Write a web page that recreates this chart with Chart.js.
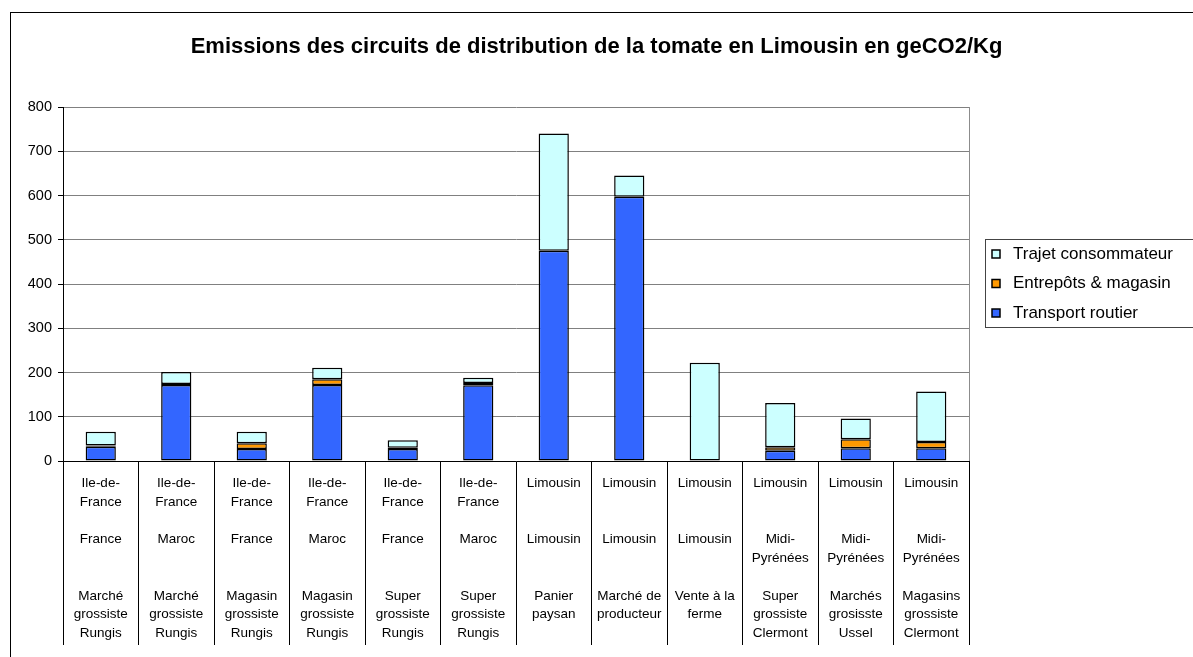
<!DOCTYPE html>
<html><head><meta charset="utf-8">
<script src="https://cdn.jsdelivr.net/npm/chart.js@4"></script>
<style>html,body{margin:0;padding:0;background:#fff;overflow:hidden}canvas{display:block}</style>
</head><body>
<canvas id="c" width="1193" height="657" style="width:1193px;height:657px"></canvas>
<script>
// ---- data ----
const regionLines = [
  ['Ile-de-','France'],['Ile-de-','France'],['Ile-de-','France'],['Ile-de-','France'],['Ile-de-','France'],['Ile-de-','France'],
  ['Limousin'],['Limousin'],['Limousin'],['Limousin'],['Limousin'],['Limousin']
];
const originLines = [
  ['France'],['Maroc'],['France'],['Maroc'],['France'],['Maroc'],
  ['Limousin'],['Limousin'],['Limousin'],['Midi-','Pyrénées'],['Midi-','Pyrénées'],['Midi-','Pyrénées']
];
const circuitLines = [
  ['Marché','grossiste','Rungis'],['Marché','grossiste','Rungis'],
  ['Magasin','grossiste','Rungis'],['Magasin','grossiste','Rungis'],
  ['Super','grossiste','Rungis'],['Super','grossiste','Rungis'],
  ['Panier','paysan'],['Marché de','producteur'],['Vente à la','ferme'],
  ['Super','grossiste','Clermont'],['Marchés','grosisste','Ussel'],['Magasins','grossiste','Clermont']
];
const seriesNames = ['Transport routier','Entrepôts & magasin','Trajet consommateur'];
const transportRoutier   = [32, 172, 27, 172, 27, 171, 475, 597,   0, 23, 29, 29];
const entrepotsMagasin   = [ 3,   2, 13,  13,  3,   5,   0,   0,   0,  8, 20, 14];
const trajetConsommateur = [31,  27, 26,  26, 17,  12, 265,  48, 222, 100, 47, 114];
const yMin = 0, yMax = 800, yStep = 100;
const chartTitle = 'Emissions des circuits de distribution de la tomate en Limousin en geCO2/Kg';

// ---- build ----
const FONT = "'Liberation Sans', Arial, sans-serif";
function pad(arr, n){ const a = arr.slice(); while(a.length < n) a.push(''); return a; }
const labels = regionLines.map((r, i) => [...pad(r,2), '', ...pad(originLines[i],2), '', ...pad(circuitLines[i],3)]);

const decor = {
  id: 'decor',
  beforeLayout(chart){
    const lg = chart.legend;
    if (lg && !lg.__patched){
      const f = lg.fit;
      lg.fit = function(){ f.call(this); this.width = 224; };
      lg.__patched = true;
    }
  },
  afterLayout(chart){
    const lg = chart.legend;
    if (!lg) return;
    lg.left = 975; lg.right = 975 + 224; lg.width = 224;
    lg.top = 233; lg.bottom = 233 + 130; lg.height = 130;
  },
  beforeDraw(chart){
    const c = chart.ctx;
    c.save();
    c.fillStyle = '#fff'; c.fillRect(0,0,chart.width,chart.height);
    c.strokeStyle = '#000'; c.lineWidth = 1;
    c.strokeRect(10.5, 12.5, chart.width + 20, chart.height + 20);
    c.restore();
  },
  afterDraw(chart){
    const c = chart.ctx, a = chart.chartArea;
    c.save();
    c.strokeStyle = '#8c8c8c'; c.lineWidth = 1;
    const xr = Math.round(a.right) + 0.5;
    c.beginPath(); c.moveTo(xr, Math.round(a.top)); c.lineTo(xr, Math.round(a.bottom)); c.stroke();
    c.strokeStyle = '#444';
    c.strokeRect(985.5, 239.5, 240, 88);
    c.restore();
  }
};

new Chart(document.getElementById('c'), {
  type: 'bar',
  data: {
    labels: labels,
    datasets: [
      { label: seriesNames[0], data: transportRoutier, backgroundColor: '#3366FF' },
      { label: seriesNames[1], data: entrepotsMagasin, backgroundColor: '#FF9900' },
      { label: seriesNames[2], data: trajetConsommateur, backgroundColor: '#CCFFFF' }
    ].map(d => Object.assign(d, { borderColor: '#000', borderWidth: 1.5, borderSkipped: false, categoryPercentage: 0.8, barPercentage: 0.5 }))
  },
  options: {
    responsive: false,
    animation: false,
    devicePixelRatio: 1,
    layout: { padding: { left: 0, right: 0, top: 0, bottom: 12 } },
    plugins: {
      title: { display: true, text: chartTitle, color: '#000',
        font: { family: FONT, size: 22, weight: 'bold', lineHeight: 1.2 },
        padding: { top: 33.5, bottom: 47.1 } },
      legend: { display: true, position: 'right', align: 'start', reverse: true,
        labels: { color: '#000', font: { family: FONT, size: 17 }, padding: 12.5,
          usePointStyle: true, pointStyle: 'rect', boxWidth: 17, boxHeight: 8 } },
      tooltip: { enabled: false }
    },
    scales: {
      x: {
        stacked: true, offset: true,
        grid: { display: true, drawOnChartArea: false, drawTicks: true, tickLength: 184, offset: true, color: '#000', tickColor: '#000', lineWidth: 1 },
        border: { display: true, color: '#000', width: 1 },
        ticks: { autoSkip: false, maxRotation: 0, minRotation: 0, padding: -171.4, color: '#000',
          font: { family: FONT, size: 13.5, lineHeight: 1.393 } },
        afterFit(s){ s.height = 184; }
      },
      y: {
        stacked: true, min: yMin, max: yMax,
        ticks: { stepSize: yStep, padding: 6, color: '#000', font: { family: FONT, size: 14.5 } },
        grid: { color: '#808080', tickColor: '#000', tickLength: 5, drawTicks: true },
        border: { color: '#000', width: 1 },
        afterFit(s){ s.width = 63; }
      }
    }
  },
  plugins: [decor]
});
</script>
</body></html>
